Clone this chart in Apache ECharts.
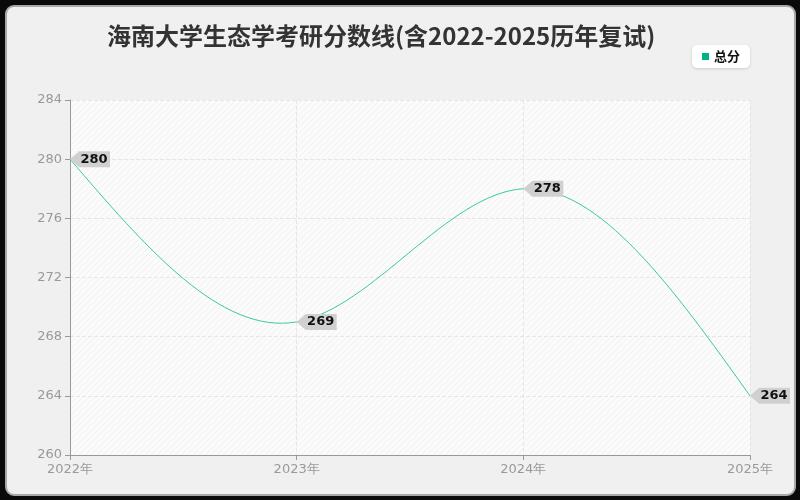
<!DOCTYPE html>
<html><head><meta charset="utf-8">
<script src="https://cdn.jsdelivr.net/npm/echarts@6/dist/echarts.min.js"></script>
<style>
html,body{margin:0;padding:0;background:#0a0a0a;width:800px;height:500px;overflow:hidden}
#frame{position:absolute;left:5px;top:5px;width:787px;height:487px;background:#f0f0f0;border:2px solid #a8a8a8;border-radius:9px}
#main{position:absolute;left:0;top:0;width:800px;height:500px}
</style></head>
<body><div id="frame"></div><div id="main"></div>
<script>
const titleText = '海南大学生态学考研分数线(含2022-2025历年复试)';
const seriesName = '总分';
const categories = ['2022年','2023年','2024年','2025年'];
const scores = [280, 269, 278, 264];
const yMin = 260, yMax = 284, yStep = 4;

const cv = document.createElement('canvas');
cv.width = 6; cv.height = 6;
const cx = cv.getContext('2d');
cx.fillStyle = '#fbfbfb'; cx.fillRect(0,0,6,6);
cx.strokeStyle = '#f1f1f1'; cx.lineWidth = 1;
cx.beginPath(); cx.moveTo(0,6); cx.lineTo(6,0); cx.stroke();

// natural cubic spline through the data points (pixel space), drawn as bezier path
function splinePath(pts) {
  const n = pts.length;
  const y = pts.map(p => p[1]);
  const M = new Array(n).fill(0);
  if (n > 2) {
    const m = n - 2, a = [], b = [], c = [], d = [];
    for (let i = 1; i <= m; i++) {
      a.push(1); b.push(4); c.push(1);
      d.push(6 * (y[i - 1] - 2 * y[i] + y[i + 1]));
    }
    for (let i = 1; i < m; i++) {
      const w = a[i] / b[i - 1];
      b[i] -= w * c[i - 1]; d[i] -= w * d[i - 1];
    }
    const s = new Array(m);
    s[m - 1] = d[m - 1] / b[m - 1];
    for (let i = m - 2; i >= 0; i--) s[i] = (d[i] - c[i] * s[i + 1]) / b[i];
    for (let i = 0; i < m; i++) M[i + 1] = s[i];
  }
  const D = [];
  for (let i = 0; i < n - 1; i++) D.push((y[i + 1] - y[i]) - (2 * M[i] + M[i + 1]) / 6);
  D.push((y[n - 1] - y[n - 2]) + (M[n - 2] + 2 * M[n - 1]) / 6);
  let path = 'M' + pts[0][0] + ',' + pts[0][1];
  for (let i = 0; i < n - 1; i++) {
    const dx = pts[i + 1][0] - pts[i][0];
    path += ' C' + (pts[i][0] + dx / 3) + ',' + (pts[i][1] + D[i] / 3) + ' ' +
      (pts[i + 1][0] - dx / 3) + ',' + (pts[i + 1][1] - D[i + 1] / 3) + ' ' +
      pts[i + 1][0] + ',' + pts[i + 1][1];
  }
  return path;
}

const chart = echarts.init(document.getElementById('main'));
chart.setOption({
  backgroundColor: 'transparent',
  animation: false,
  title: {
    text: titleText, left: 102, top: 19,
    textStyle: {fontSize: 24, fontWeight: 'bold', color: '#333', fontFamily: 'Noto Sans CJK SC'}
  },
  legend: {
    data: [{name: seriesName, itemStyle: {color: '#00b386'}}], right: 50, top: 45,
    backgroundColor: '#fff', borderRadius: 5, padding: [5, 10],
    shadowColor: 'rgba(0,0,0,0.15)', shadowBlur: 3, shadowOffsetY: 1,
    itemWidth: 7, itemHeight: 7, icon: 'rect', itemGap: 5,
    textStyle: {fontSize: 13, fontWeight: 'bold', color: '#111', fontFamily: 'Noto Sans CJK SC'}
  },
  grid: {
    left: 70, right: 50, top: 100, bottom: 45, show: true,
    backgroundColor: {image: cv, repeat: 'repeat'}, borderWidth: 0
  },
  xAxis: {
    type: 'category', data: categories, boundaryGap: false,
    axisLine: {lineStyle: {color: '#999'}},
    axisTick: {show: true, lineStyle: {color: '#999'}},
    axisLabel: {color: '#999', fontSize: 13, fontFamily: 'DejaVu Sans'},
    splitLine: {show: true, lineStyle: {type: 'dashed', color: '#e6e6e6'}}
  },
  yAxis: {
    type: 'value', min: yMin, max: yMax, interval: yStep,
    axisLine: {show: true, lineStyle: {color: '#999'}},
    axisTick: {show: true, lineStyle: {color: '#999'}},
    axisLabel: {color: '#999', fontSize: 13, fontFamily: 'DejaVu Sans'},
    splitLine: {show: true, lineStyle: {type: 'dashed', color: '#e6e6e6'}}
  },
  series: [{
    name: seriesName, type: 'custom', data: scores.map((v, i) => [i, v]),
    z: 2, silent: true,
    renderItem: function (params, api) {
      if (params.dataIndex !== 0) return null;
      const pts = scores.map((v, i) => api.coord([i, v]));
      return {
        type: 'path',
        shape: {pathData: splinePath(pts)},
        style: {fill: 'none', stroke: '#3cc9a0', lineWidth: 1}
      };
    }
  }, {
    name: seriesName, type: 'line', data: scores, z: 3,
    lineStyle: {opacity: 0},
    symbol: 'path://M0,8 L9,0 L40,0 L40,16 L9,16 Z',
    symbolSize: [40, 16], symbolOffset: [20, 0], symbolKeepAspect: false,
    itemStyle: {color: '#d0d0d0'},
    label: {
      show: true, position: 'inside', offset: [4, 0],
      color: '#111', fontWeight: 'bold', fontSize: 13, fontFamily: 'DejaVu Sans'
    },
    emphasis: {disabled: true}
  }]
});
</script></body></html>
